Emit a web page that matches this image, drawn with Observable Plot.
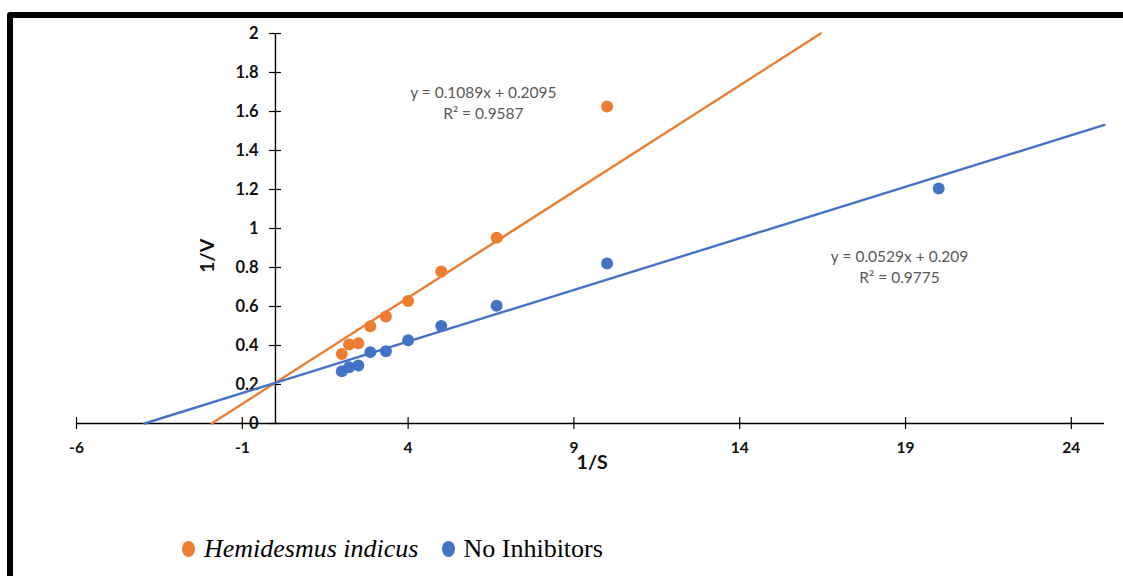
<!DOCTYPE html>
<html>
<head>
<meta charset="utf-8">
<script src="https://cdn.jsdelivr.net/npm/d3@7"></script>
<script src="https://cdn.jsdelivr.net/npm/@observablehq/plot@0.6"></script>
<style>
  body { margin: 0; background: #fff; }
  #wrap { position: relative; width: 1123px; height: 576px; overflow: hidden; background: #fff; }
  #frame { position: absolute; left: 7px; top: 12px; width: 1400px; height: 900px; border: 6px solid #000; border-radius: 3px; box-sizing: border-box; }
  #chart { position: absolute; left: 0; top: 0; }
  #legend { position: absolute; left: 182px; top: 532px; height: 34px; display: flex; align-items: center; font-family: "Liberation Serif", "Times New Roman", serif; font-size: 26px; color: #000; }
  .sw { display: inline-block; width: 13px; height: 16px; border-radius: 50%; }
  .it { font-style: italic; }
</style>
</head>
<body>
<div id="wrap">
  <div id="frame"></div>
  <div id="chart"></div>
  <div id="legend"></div>
</div>
<script>
// ---- data ----
const invS = [2, 2.22, 2.5, 2.86, 3.33, 4, 5, 6.67, 10, 20];
const hemidesmusInvV = [0.357, 0.405, 0.412, 0.499, 0.549, 0.628, 0.779, 0.953, 1.626];
const noInhibitorInvV = [0.268, 0.289, 0.297, 0.366, 0.371, 0.427, 0.500, 0.604, 0.820, 1.205];
const seriesNames = ["Hemidesmus indicus", "No Inhibitors"];
const seriesColors = ["#ED7D31", "#4472C4"];
const slopes = [0.1089, 0.0529];
const intercepts = [0.2095, 0.209];
const equationTexts = ["y = 0.1089x + 0.2095\nR² = 0.9587", "y = 0.0529x + 0.209\nR² = 0.9775"];
const equationAnchorX = [6.27, 18.82];
const equationAnchorY = [1.65, 0.81];
const xTicks = [-6, -1, 4, 9, 14, 19, 24];
const yTicks = [0, 0.2, 0.4, 0.6, 0.8, 1, 1.2, 1.4, 1.6, 1.8, 2];
const xDomain = [-6, 25];
const yDomain = [0, 2];

// ---- build tables ----
const points = [];
hemidesmusInvV.forEach((v, i) => points.push({x: invS[i], y: v, s: 0}));
noInhibitorInvV.forEach((v, i) => points.push({x: invS[i], y: v, s: 1}));

// trendlines (Excel linear fit, backward-forecast to 1/V = 0, clipped to the plot area)
const trend = [];
slopes.forEach((m, s) => {
  const b = intercepts[s];
  const xStart = Math.max(xDomain[0], (yDomain[0] - b) / m);
  const xEnd = Math.min(xDomain[1], (yDomain[1] - b) / m);
  trend.push({x: xStart, y: m * xStart + b, s});
  trend.push({x: xEnd, y: m * xEnd + b, s});
});

const eqs = equationTexts.map((t, s) => ({x: equationAnchorX[s], y: equationAnchorY[s], t}));

const W = 1123, H = 576;
const font = "Lato, 'Open Sans', sans-serif";

const chart = Plot.plot({
  width: W,
  height: H,
  marginLeft: 76,
  marginRight: 19,
  marginTop: 33,
  marginBottom: 153,
  style: {background: "transparent", fontFamily: font, overflow: "visible"},
  x: {domain: xDomain, axis: null},
  y: {domain: yDomain, axis: null},
  marks: [
    // axes lines
    Plot.ruleY([0], {x1: xDomain[0], x2: xDomain[1], stroke: "#000", strokeWidth: 1.4}),
    Plot.ruleX([0], {y1: yDomain[0], y2: yDomain[1], stroke: "#000", strokeWidth: 1.4}),
    // cross ticks
    Plot.ruleX(xTicks, {x: d => d, y1: 0, y2: 0, insetTop: 6, insetBottom: 6, stroke: "#000", strokeWidth: 1.2}),
    Plot.ruleY(yTicks, {y: d => d, x1: 0, x2: 0, insetLeft: 6, insetRight: 6, stroke: "#000", strokeWidth: 1.2}),
    // tick labels
    Plot.text(yTicks, {x: 0, y: d => d, text: d => String(d), dx: -17, textAnchor: "end", fontWeight: "bold", fontSize: 16.5, fill: "#111"}),
    Plot.text(xTicks, {x: d => d, y: 0, text: d => String(d), dy: 25, fontWeight: "bold", fontSize: 15.5, fill: "#111"}),
    // axis titles
    Plot.text(["1/S"], {x: 9.55, y: 0, text: d => d, dy: 39, fontWeight: "bold", fontSize: 19.5, fill: "#111"}),
    Plot.text(["1/V"], {x: -2.05, y: 0.86, text: d => d, rotate: -90, fontWeight: "bold", fontSize: 19.5, fill: "#111"}),
    // trendlines
    Plot.line(trend, {x: "x", y: "y", z: "s", stroke: d => seriesColors[d.s], strokeWidth: 2.4}),
    // points
    Plot.dot(points, {x: "x", y: "y", r: 6, fill: d => seriesColors[d.s], stroke: "none"}),
    // equations
    Plot.text(eqs, {x: "x", y: "y", text: "t", fontSize: 15.5, fill: "#595959", lineHeight: 1.35})
  ]
});
document.getElementById("chart").appendChild(chart);

// legend
const legend = document.getElementById("legend");
seriesNames.forEach((n, i) => {
  const sw = document.createElement("span");
  sw.className = "sw";
  sw.style.background = seriesColors[i];
  sw.style.marginRight = i === 0 ? "9px" : "8px";
  legend.appendChild(sw);
  const t = document.createElement("span");
  t.textContent = n;
  if (i === 0) { t.className = "it"; t.style.marginRight = "24px"; }
  legend.appendChild(t);
});
</script>
</body>
</html>
